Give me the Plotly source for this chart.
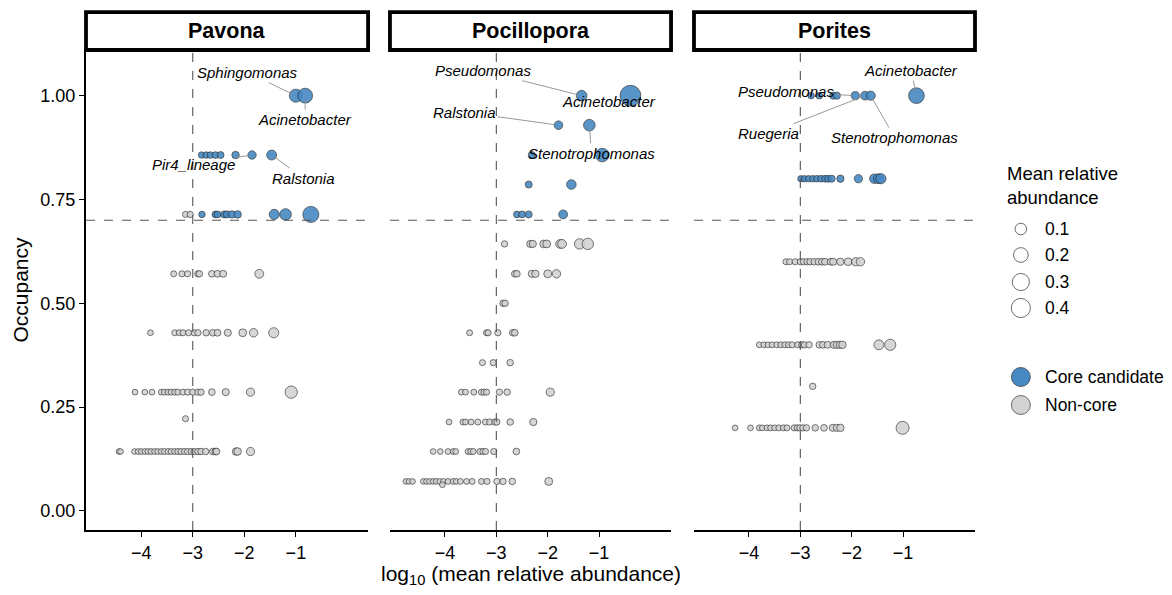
import plotly.graph_objects as go

# ---- data: log10(mean relative abundance) per occupancy row ----
panels = ["Pavona", "Pocillopora", "Porites"]

pavona_core_occ = [1.0, 0.857, 0.714]
pavona_core_x = [
    [-1.00, -0.82],
    [-2.83, -2.74, -2.66, -2.56, -2.46, -2.17, -1.85, -1.47],
    [-2.82, -2.56, -2.52, -2.39, -2.34, -2.24, -2.13, -1.42, -1.20, -0.71],
]
pavona_non_occ = [0.714, 0.571, 0.429, 0.286, 0.222, 0.143]
pavona_non_x = [
    [-3.14, -3.05],
    [-3.37, -3.21, -3.10, -2.90, -2.87, -2.63, -2.52, -2.41, -1.71],
    [-3.82, -3.35, -3.26, -3.19, -3.08, -2.97, -2.90, -2.74, -2.61, -2.52, -2.32, -2.03, -1.82, -1.43],
    [-4.12, -3.93, -3.79, -3.61, -3.55, -3.48, -3.42, -3.35, -3.29, -3.19, -3.10, -3.00, -2.90, -2.84,
     -2.63, -2.36, -1.88, -1.09],
    [-3.14],
    [-4.43, -4.40, -4.13, -4.06, -4.00, -3.93, -3.87, -3.81, -3.74, -3.68, -3.61, -3.55, -3.48, -3.42,
     -3.35, -3.29, -3.23, -3.16, -3.10, -3.03, -2.97, -2.90, -2.84, -2.75, -2.61, -2.56, -2.54, -2.16,
     -2.13, -1.88],
]

pocillopora_core_occ = [1.0, 0.929, 0.857, 0.786, 0.714]
pocillopora_core_x = [
    [-1.34, -0.39],
    [-1.79, -1.19],
    [-2.31, -0.94],
    [-2.37, -1.54],
    [-2.60, -2.50, -2.37, -1.70],
]
pocillopora_non_occ = [0.643, 0.571, 0.5, 0.429, 0.357, 0.286, 0.214, 0.143, 0.071, 0.063]
pocillopora_non_x = [
    [-2.84, -2.34, -2.29, -2.08, -2.02, -1.76, -1.72, -1.38, -1.22],
    [-2.64, -2.60, -2.31, -2.24, -2.00, -1.83],
    [-2.87, -2.83],
    [-3.52, -3.19, -3.16, -2.97, -2.68, -2.64],
    [-3.27, -3.06, -2.73],
    [-3.68, -3.60, -3.44, -3.29, -3.24, -3.19, -2.94, -2.79, -1.95],
    [-3.92, -3.65, -3.60, -3.49, -3.36, -3.21, -3.13, -3.03, -2.99, -2.73, -2.28],
    [-4.23, -4.09, -3.94, -3.84, -3.79, -3.55, -3.50, -3.45, -3.32, -3.26, -3.21, -3.05, -2.61],
    [-4.76, -4.70, -4.63, -4.42, -4.36, -4.30, -4.23, -4.17, -4.10, -4.03, -3.94, -3.84, -3.78, -3.70,
     -3.58, -3.47, -3.29, -3.18, -2.99, -2.87, -2.69, -1.98],
    [-4.05],
]

porites_core_occ = [1.0, 0.8]
porites_core_x = [
    [-2.79, -2.63, -2.36, -2.29, -1.93, -1.74, -1.63, -0.74],
    [-2.99, -2.92, -2.84, -2.76, -2.68, -2.60, -2.52, -2.46, -2.39, -2.22, -1.87, -1.56, -1.48, -1.43],
]
porites_non_occ = [0.6, 0.4, 0.3, 0.2]
porites_non_x = [
    [-3.28, -3.21, -3.10, -3.00, -2.94, -2.87, -2.81, -2.73, -2.65, -2.58, -2.52, -2.41, -2.36, -2.22,
     -2.07, -1.92, -1.83],
    [-3.80, -3.71, -3.63, -3.55, -3.46, -3.38, -3.30, -3.23, -3.16, -3.05, -2.97, -2.92, -2.83, -2.63,
     -2.56, -2.47, -2.35, -2.29, -2.23, -2.18, -1.47, -1.25],
    [-2.76],
    [-4.27, -3.97, -3.80, -3.74, -3.65, -3.58, -3.50, -3.42, -3.33, -3.26, -3.12, -3.06, -3.01, -2.95,
     -2.88, -2.71, -2.54, -2.37, -2.29, -2.22, -1.01],
]

# labelled genera: panel, name, point (x, occupancy), text offset in px
label_panel = [0, 0, 0, 0, 1, 1, 1, 1, 2, 2, 2, 2]
label_names = ["Sphingomonas", "Acinetobacter", "Pir4_lineage", "Ralstonia",
               "Pseudomonas", "Acinetobacter", "Ralstonia", "Stenotrophomonas",
               "Acinetobacter", "Pseudomonas", "Ruegeria", "Stenotrophomonas"]
label_x = [-1.00, -0.82, -1.85, -1.47, -1.34, -0.39, -1.79, -1.19, -0.74, -1.93, -1.74, -1.63]
label_occ = [1.0, 1.0, 0.857, 0.857, 1.0, 1.0, 0.929, 0.929, 1.0, 1.0, 1.0, 1.0]
label_ax = [-48, 0, -59, 32, -99, -21, -94, 2, -5, -69, -97, 24]
label_ay = [-23, 24, 9, 23, -25, 6, -13, 28, -25, -4, 38, 42]
label_line = [True, True, True, True, True, False, True, True, True, True, True, True]

size_legend = [0.1, 0.2, 0.3, 0.4]

CORE = "#4689C3"
NONCORE = "#D3D3D3"
FONT = "Liberation Sans"


def diam(v):
    # point diameter (px) scaled by area like ggplot's scale_size
    return 5.5 + 24 * v ** 0.5


def flatten(occ, xs):
    fx, fy = [], []
    for o, row in zip(occ, xs):
        for v in row:
            fx.append(v)
            fy.append(o)
    return fx, fy


groups = [
    [(pavona_core_occ, pavona_core_x), (pavona_non_occ, pavona_non_x)],
    [(pocillopora_core_occ, pocillopora_core_x), (pocillopora_non_occ, pocillopora_non_x)],
    [(porites_core_occ, porites_core_x), (porites_non_occ, porites_non_x)],
]

fig = go.Figure()
for i, (core, non) in enumerate(groups):
    ax = "" if i == 0 else str(i + 1)
    for (occ, xs), col in [(non, NONCORE), (core, CORE)]:
        fx, fy = flatten(occ, xs)
        fig.add_trace(go.Scatter(
            x=fx, y=fy, mode="markers", xaxis="x" + ax, yaxis="y" + ax,
            showlegend=False, hoverinfo="x+y",
            marker=dict(size=[diam(10 ** v) for v in fx], color=col, opacity=0.9,
                        line=dict(color="#2b2b2b", width=0.7)),
        ))

# panel geometry in paper coords (plot area is 892 x 480 px)
domains = [[0.0, 0.3173], [0.3419, 0.6581], [0.6839, 1.0]]
xrange_ = [-5.07, 0.40]
yrange_ = [-0.046, 1.11]

tick_font = dict(size=18, color="black", family=FONT)
axis_common = dict(range=xrange_, tickvals=[-4, -3, -2, -1], ticks="outside", ticklen=5,
                   tickwidth=1.3, tickcolor="black", showline=True, linecolor="black",
                   linewidth=2, showgrid=False, zeroline=False, tickfont=tick_font)

# the page adds an 8px body margin, so the figure is drawn 16px smaller than the window
layout = dict(
    width=1156, height=579, plot_bgcolor="white", paper_bgcolor="white",
    margin=dict(l=75, r=189, t=42, b=57),
    font=dict(family=FONT, color="black"),
    showlegend=False,
)
for i in range(3):
    ax = "" if i == 0 else str(i + 1)
    layout["xaxis" + ax] = dict(axis_common, domain=domains[i], anchor="y" + ax)
    if i == 0:
        layout["yaxis"] = dict(range=yrange_, tickvals=[0, 0.25, 0.5, 0.75, 1.0],
                               ticktext=["0.00", "0.25", "0.50", "0.75", "1.00"],
                               ticks="outside", ticklen=5, tickwidth=1.3, tickcolor="black",
                               showline=True, linecolor="black", linewidth=2,
                               showgrid=False, zeroline=False, anchor="x", tickfont=tick_font,
                               title=dict(text="Occupancy", font=dict(size=21, family=FONT),
                                          standoff=6))
    else:
        layout["yaxis" + ax] = dict(range=yrange_, showline=False, showticklabels=False,
                                    showgrid=False, zeroline=False, ticks="",
                                    anchor="x" + ax, matches="y")
fig.update_layout(**layout)

shapes = []
annotations = []
for i, name in enumerate(panels):
    ax = "" if i == 0 else str(i + 1)
    # threshold lines
    shapes.append(dict(type="line", xref="x" + ax, yref="y" + ax + " domain", x0=-3, x1=-3,
                       y0=0, y1=1, line=dict(color="#555555", width=1.1, dash="dash")))
    shapes.append(dict(type="line", xref="x" + ax + " domain", yref="y" + ax, x0=0, x1=1,
                       y0=0.7, y1=0.7, line=dict(color="#555555", width=1.1, dash="dash")))
    # strip
    shapes.append(dict(type="rect", xref="paper", yref="paper", x0=domains[i][0], x1=domains[i][1],
                       y0=1.0, y1=1.079, fillcolor="white", line=dict(color="black", width=3.8)))
    annotations.append(dict(text="<b>%s</b>" % name, xref="paper", yref="paper",
                            x=(domains[i][0] + domains[i][1]) / 2, y=1.0395, showarrow=False,
                            font=dict(size=21.5, family=FONT, color="black"),
                            xanchor="center", yanchor="middle"))

for p, n, x, y, dx, dy, ln in zip(label_panel, label_names, label_x, label_occ,
                                  label_ax, label_ay, label_line):
    ax = "" if p == 0 else str(p + 1)
    annotations.append(dict(text="<i>%s</i>" % n, x=x, y=y, xref="x" + ax, yref="y" + ax,
                            ax=dx, ay=dy, showarrow=True, arrowhead=0, arrowwidth=0.9,
                            arrowcolor="#8c8c8c" if ln else "rgba(0,0,0,0)", standoff=4,
                            font=dict(size=15, family=FONT, color="black")))

# x axis title
annotations.append(dict(text="log<sub>10</sub> (mean relative abundance)", xref="paper",
                        yref="paper", x=0.5, y=-0.094, showarrow=False,
                        font=dict(size=21, family=FONT), xanchor="center", yanchor="middle"))


# legend (drawn by hand so circle sizes match the point scale)
def px_x(px):
    return (px - 83) / 892


def px_y(py):
    return (530 - py) / 480


annotations.append(dict(text="Mean relative<br>abundance", xref="paper", yref="paper",
                        x=px_x(1005), y=px_y(185), showarrow=False, align="left",
                        xanchor="left", yanchor="middle", font=dict(size=18.5, family=FONT)))
key_y = [229, 255, 282, 308]
for v, cy in zip(size_legend, key_y):
    d = diam(v) - 1.5
    shapes.append(dict(type="circle", xref="paper", yref="paper", xsizemode="pixel",
                       ysizemode="pixel", xanchor=px_x(1021), yanchor=px_y(cy),
                       x0=-d / 2, x1=d / 2, y0=-d / 2, y1=d / 2,
                       fillcolor="white", line=dict(color="#333333", width=0.7)))
    annotations.append(dict(text=str(v), xref="paper", yref="paper", x=px_x(1043), y=px_y(cy),
                            showarrow=False, xanchor="left", yanchor="middle",
                            font=dict(size=17.5, family=FONT)))
for lab, col, cy in [("Core candidate", CORE, 377), ("Non-core", NONCORE, 405)]:
    d = 19
    shapes.append(dict(type="circle", xref="paper", yref="paper", xsizemode="pixel",
                       ysizemode="pixel", xanchor=px_x(1021), yanchor=px_y(cy),
                       x0=-d / 2, x1=d / 2, y0=-d / 2, y1=d / 2,
                       fillcolor=col, line=dict(color="#333333", width=0.7)))
    annotations.append(dict(text=lab, xref="paper", yref="paper", x=px_x(1043), y=px_y(cy),
                            showarrow=False, xanchor="left", yanchor="middle",
                            font=dict(size=17.5, family=FONT)))

fig.update_layout(shapes=shapes, annotations=annotations)
fig.write_html("out.html")
